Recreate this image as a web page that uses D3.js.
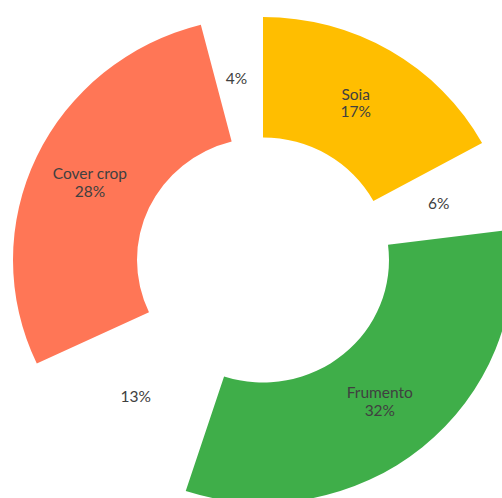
<!DOCTYPE html>
<html>
<head>
<meta charset="utf-8">
<script src="https://cdn.jsdelivr.net/npm/d3@7"></script>
<style>
  body { margin: 0; background: #fff; }
  svg { display: block; }
</style>
</head>
<body>
<svg id="chart"></svg>
<script>
// data, clockwise from 12 o'clock; the gap slices are drawn transparent
const categories = ['Soia', 'gap1', 'Frumento', 'gap2', 'Cover crop', 'gap3'];
const values = [17, 6, 32, 13, 28, 4];
const visible = [true, false, true, false, true, false];
const colors = ['#FFBE00', 'none', '#3FAE49', 'none', '#FF7656', 'none'];

const width = 502, height = 498;
const cx = 263, cy = 260;
const outerR = 250, innerR = 126;
const squash = 0.972; // reference is a little flattened vertically

const svg = d3.select('#chart')
    .attr('width', width)
    .attr('height', height);

const total = d3.sum(values);
const rows = categories.map((c, i) => ({ name: c, value: values[i], show: visible[i], color: colors[i] }));

const pie = d3.pie()
    .value(d => d.value)
    .sort(null);

const arc = d3.arc()
    .innerRadius(innerR)
    .outerRadius(outerR);

const arcs = pie(rows);

const g = svg.append('g')
    .attr('transform', `translate(${cx}, ${cy}) scale(1, ${squash})`);

g.selectAll('path')
    .data(arcs)
    .enter()
    .append('path')
    .attr('d', arc)
    .attr('fill', d => d.data.color);

// labels (kept unscaled so text is not squashed)
const labels = svg.append('g')
    .attr('transform', `translate(${cx - 3}, ${cy})`)
    .style('font-family', 'Lato, "Open Sans", sans-serif')
    .style('font-size', '15.5px')
    .style('fill', '#404040');

arcs.forEach(d => {
    const [x, y] = arc.centroid(d);
    const pct = Math.round(d.data.value / total * 100) + '%';
    const t = labels.append('text')
        .attr('text-anchor', 'middle')
        .attr('x', x)
        .attr('y', y * squash);
    if (d.data.show) {
        t.append('tspan').attr('x', x).attr('dy', '-0.2em').text(d.data.name);
        t.append('tspan').attr('x', x).attr('dy', '1.15em').text(pct);
    } else {
        t.attr('dy', '0.35em').text(pct);
    }
});
</script>
</body>
</html>
